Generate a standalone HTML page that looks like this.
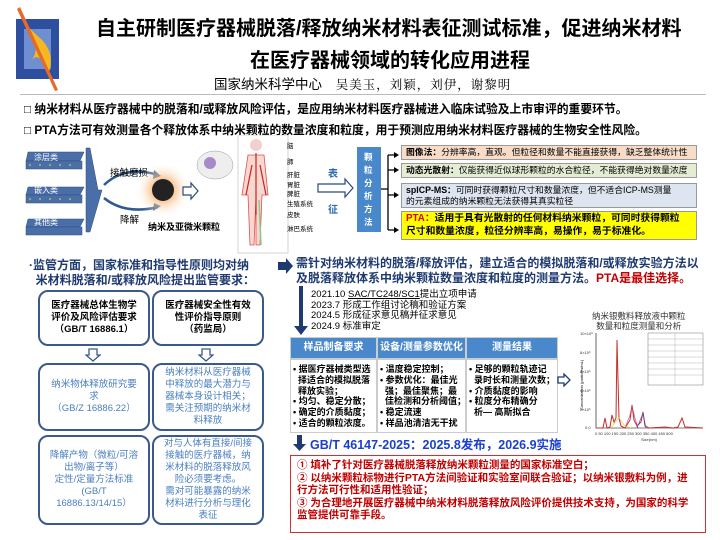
<!DOCTYPE html>
<html><head><meta charset="utf-8"><style>
*{margin:0;padding:0;box-sizing:border-box}
body{width:720px;height:540px;background:#fff;position:relative;overflow:hidden;font-family:"Liberation Sans","Noto Sans CJK SC",sans-serif;color:#000}
.a{position:absolute;white-space:nowrap}
.b{font-weight:bold}
.rb{position:absolute;border:2px solid #3a5a8c;border-radius:10px;display:flex;align-items:center;justify-content:center;text-align:center;font-size:9.5px;line-height:12px;padding:3px;white-space:nowrap}
.blu{color:#4a7fc0}
.mb{position:absolute;border:1px solid #999;font-size:8.8px;line-height:11px;padding:1px 4px;white-space:nowrap}
</style></head><body>
<!-- logo -->
<svg class="a" style="left:12px;top:5px" width="50" height="90">
<rect x="4" y="14" width="43" height="60" fill="#2e4fa0"/>
<rect x="12" y="24" width="27" height="40" fill="#6f8fd0"/>
<path d="M14 20 Q30 40 20 55 Q28 45 36 70 Q44 50 30 35Z" fill="#f5b820"/>
<path d="M8 2 L46 85 L43 86 L5 4Z" fill="#e86a2a"/>
</svg>
<div class="a b" style="left:96px;top:12px;font-size:20px">自主研制医疗器械脱落/释放纳米材料表征测试标准，促进纳米材料</div>
<div class="a b" style="left:250px;top:44px;font-size:20px">在医疗器械领域的转化应用进程</div>
<div class="a" style="left:214px;top:73px;font-size:13.5px">国家纳米科学中心 <span style="font-family:'Liberation Serif','Noto Serif CJK SC',serif;font-size:12.5px;margin-left:10px;letter-spacing:1px">吴美玉，刘颖，刘伊，谢黎明</span></div>
<div class="a" style="left:20px;top:94px;width:686px;height:1px;background:#bbb"></div>
<div class="a b" style="left:24px;top:100px;font-size:11.8px">□ 纳米材料从医疗器械中的脱落和/或释放风险评估，是应用纳米材料医疗器械进入临床试验及上市审评的重要环节。</div>
<div class="a b" style="left:24px;top:121px;font-size:11.8px">□ PTA方法可有效测量各个释放体系中纳米颗粒的数量浓度和粒度，用于预测应用纳米材料医疗器械的生物安全性风险。</div>

<!-- left diagram -->
<svg class="a" style="left:0;top:135px" width="400" height="120">
<defs><radialGradient id="g"><stop offset="0.2" stop-color="#f5a050"/><stop offset="1" stop-color="#fff" stop-opacity="0"/></radialGradient></defs>
<g fill="#4a6fa8" stroke="#2e4a7a" stroke-width="0.5">
<path d="M28 17 L84 17 L80 26 L26 26Z"/><rect x="26" y="26" width="56" height="8"/>
<path d="M28 52 L84 52 L80 60 L26 60Z"/><rect x="26" y="60" width="56" height="8"/>
<path d="M28 84 L84 84 L80 92 L26 92Z"/><rect x="26" y="92" width="56" height="8"/>
<path d="M86 13 L90 13 L98 55 L102 55 L90 97 L86 97Z"/>
</g>
<g fill="#ee3" ><circle cx="30" cy="30" r="0.8"/><circle cx="40" cy="30" r="0.8"/><circle cx="50" cy="30" r="0.8"/><circle cx="60" cy="30" r="0.8"/><circle cx="70" cy="30" r="0.8"/><circle cx="30" cy="64" r="0.8"/><circle cx="40" cy="64" r="0.8"/><circle cx="50" cy="64" r="0.8"/><circle cx="60" cy="64" r="0.8"/><circle cx="70" cy="64" r="0.8"/></g>
<text x="34" y="25" font-size="8" fill="#fff">涂层类</text>
<text x="34" y="58" font-size="8" fill="#fff">嵌入类</text>
<text x="34" y="90" font-size="8" fill="#fff">其他类</text>
<path d="M104 50 Q125 30 158 40" stroke="#2e5a90" stroke-width="2.5" fill="none"/>
<path d="M104 63 Q125 80 158 72" stroke="#2e5a90" stroke-width="2.5" fill="none"/>
<path d="M154 35 L161 41 L153 44Z M154 68 L161 71 L153 76Z" fill="#2e5a90"/>
<text x="110" y="41" font-size="9.5" font-family="Liberation Sans,Noto Sans CJK SC">接触磨损</text>
<text x="120" y="88" font-size="9.5" font-family="Liberation Sans,Noto Sans CJK SC">降解</text>
<circle cx="163" cy="55" r="28" fill="url(#g)"/>
<circle cx="163" cy="55" r="11" fill="#222"/>
<text x="148" y="95" font-size="9" font-weight="bold" font-family="Liberation Sans,Noto Sans CJK SC">纳米及亚微米颗粒</text>
<path d="M183 52 L191 52 L191 48 L198 56 L191 64 L191 60 L183 60Z" fill="#fff" stroke="#2e4a7a" stroke-width="1.2"/>
<ellipse cx="215" cy="30" rx="18" ry="14" fill="#eee" stroke="#999" stroke-width="0.5"/>
<circle cx="210" cy="28" r="6" fill="#a98ac8"/>
<rect x="238" y="0" width="50" height="118" fill="#fff" stroke="#ccc" stroke-width="0.8"/>
<circle cx="256" cy="10" r="6" fill="#f0d0d0"/>
<path d="M248 20 L264 20 L268 60 L262 60 L260 110 L256 110 L256 62 L254 110 L250 110 L248 60 L242 60Z" fill="#f6d8d0" stroke="#e05050" stroke-width="0.8"/>
<path d="M256 18 L256 80 M252 30 L246 60 M260 30 L266 60" stroke="#d02020" stroke-width="1.2" fill="none"/>
<path d="M259 65 L261 110" stroke="#8c8" stroke-width="1.5"/>
<g font-size="6.5" font-family="Liberation Sans,Noto Sans CJK SC"><text x="287" y="13">脑</text><text x="287" y="29">肺</text><text x="287" y="42">肝脏</text><text x="287" y="52">胃脏</text><text x="287" y="61">脾脏</text><text x="287" y="71">生殖系统</text><text x="287" y="82">皮肤</text><text x="287" y="96">淋巴系统</text></g>
<path d="M318 49 L345 49 L345 44 L353 53 L345 62 L345 57 L318 57Z" fill="#fff" stroke="#2e4a7a" stroke-width="1.2"/>
<text x="328" y="42" font-size="10" font-weight="bold" fill="#2e6ab0" font-family="Liberation Sans,Noto Sans CJK SC">表</text>
<text x="328" y="78" font-size="10" font-weight="bold" fill="#2e6ab0" font-family="Liberation Sans,Noto Sans CJK SC">征</text>
<rect x="357" y="12" width="24" height="85" fill="#4a88cc"/>
<g font-size="8.5" font-weight="bold" fill="#fff" font-family="Liberation Sans,Noto Sans CJK SC"><text x="364" y="25">颗</text><text x="364" y="38">粒</text><text x="364" y="51">分</text><text x="364" y="64">析</text><text x="364" y="77">方</text><text x="364" y="90">法</text></g>
<path d="M381 54 L388 54 M388 20 L388 95 M388 20 L396 20 M388 35 L396 35 M388 60 L396 60 M388 95 L396 95" stroke="#000" stroke-width="1.3"/>
<path d="M394 17 L399 20 L394 23Z M394 32 L399 35 L394 38Z M394 57 L399 60 L394 63Z M394 92 L399 95 L394 98Z" fill="#000"/>
</svg>
<div class="mb" style="left:401px;top:145px;width:296px;height:15px;background:#f8dcc8"><b>图像法：</b>分辨率高，直观。但粒径和数量不能直接获得，缺乏整体统计性</div>
<div class="mb" style="left:401px;top:163px;width:296px;height:15px;background:#e4edd4"><b>动态光散射：</b>仅能获得近似球形颗粒的水合粒径，不能获得绝对数量浓度</div>
<div class="mb" style="left:401px;top:183px;width:296px;height:25px;background:#dde5f0"><b>spICP-MS：</b>可同时获得颗粒尺寸和数量浓度，但不适合ICP-MS测量<br>的元素组成的纳米颗粒无法获得其真实粒径</div>
<div class="mb b" style="left:401px;top:211px;width:296px;height:29px;background:#ffff00;font-size:9.8px;line-height:12.5px;padding-top:1px"><span style="color:#e00000">PTA：</span>适用于具有光散射的任何材料纳米颗粒，可同时获得颗粒<br>尺寸和数量浓度，粒径分辨率高，易操作，易于标准化。</div>

<!-- left lower -->
<div class="a b" style="left:29px;top:258px;font-size:12px;color:#1f3a70;line-height:15px">·监管方面，国家标准和指导性原则均对纳<br>&nbsp;&nbsp;米材料脱落和/或释放风险提出监管要求：</div>
<div class="rb b" style="left:38px;top:290px;width:112px;height:56px">医疗器械总体生物学<br>评价及风险评估要求<br>（GB/T 16886.1）</div>
<div class="rb b" style="left:152px;top:290px;width:112px;height:56px">医疗器械安全性有效<br>性评价指导原则<br>（药监局）</div>
<svg class="a" style="left:85px;top:348px" width="16" height="14"><path d="M4 1 L12 1 L12 7 L15 7 L8 13 L1 7 L4 7Z" fill="#fff" stroke="#3a5a8c" stroke-width="1.3"/></svg>
<svg class="a" style="left:198px;top:348px" width="16" height="14"><path d="M4 1 L12 1 L12 7 L15 7 L8 13 L1 7 L4 7Z" fill="#fff" stroke="#3a5a8c" stroke-width="1.3"/></svg>
<div class="rb blu" style="left:38px;top:363px;width:112px;height:68px">纳米物体释放研究要<br>求<br>（GB/Z 16886.22）</div>
<div class="rb blu" style="left:152px;top:363px;width:112px;height:68px">纳米材料从医疗器械<br>中释放的最大潜力与<br>器械本身设计相关；<br>需关注预期的纳米材<br>料释放</div>
<div class="rb blu" style="left:38px;top:435px;width:112px;height:90px">降解产物（微粒/可溶<br>出物/离子等）<br>定性/定量方法标准<br>(GB/T<br>16886.13/14/15）</div>
<div class="rb blu" style="left:152px;top:435px;width:112px;height:90px">对与人体有直接/间接<br>接触的医疗器械，纳<br>米材料的脱落释放风<br>险必须要考虑。<br>需对可能暴露的纳米<br>材料进行分析与理化<br>表征</div>

<!-- right lower -->
<svg class="a" style="left:278px;top:258px" width="16" height="16"><path d="M0 4 L8 4 L8 0 L15 8 L8 16 L8 12 L0 12Z" fill="#1f3a70"/></svg>
<div class="a b" style="left:296px;top:256px;font-size:12px;color:#1f3a70;line-height:15px">需针对纳米材料的脱落/释放评估，建立适合的模拟脱落和/或释放实验方法以<br>及脱落释放体系中纳米颗粒数量浓度和粒度的测量方法。<span style="color:#c00000">PTA是最佳选择。</span></div>
<svg class="a" style="left:293px;top:286px" width="16" height="50"><path d="M6 0 L10 0 L10 40 L15 40 L8 49 L1 40 L6 40Z" fill="#1f3a70"/></svg>
<div class="a" style="left:311px;top:290px;font-size:9.5px;line-height:10.5px">2021.10 <u>SAC/TC248/SC1</u>提出立项申请<br>2023.7 形成工作组讨论稿和验证方案<br>2024.5 形成征求意见稿并征求意见<br>2024.9 标准审定</div>
<div class="a" style="left:290px;top:337px;width:268px;height:96px;background:#ccc"></div>
<div class="a b" style="left:291px;top:338px;width:85px;height:20px;background:#4a88cc;color:#fff;font-size:10px;text-align:center;line-height:20px">样品制备要求</div>
<div class="a b" style="left:378px;top:338px;width:87px;height:20px;background:#4a88cc;color:#fff;font-size:10px;text-align:center;line-height:20px">设备/测量参数优化</div>
<div class="a b" style="left:467px;top:338px;width:90px;height:20px;background:#4a88cc;color:#fff;font-size:10px;text-align:center;line-height:20px">测量结果</div>
<div class="a b" style="left:291px;top:360px;width:85px;height:72px;background:#fff;font-size:9px;line-height:10.8px;padding:4px 2px">• 据医疗器械类型选<br>&nbsp;&nbsp;择适合的模拟脱落<br>&nbsp;&nbsp;释放实验；<br>• 均匀、稳定分散；<br>• 确定的介质黏度；<br>• 适合的颗粒浓度。</div>
<div class="a b" style="left:378px;top:360px;width:87px;height:72px;background:#fff;font-size:9px;line-height:10.8px;padding:4px 2px">• 温度稳定控制；<br>• 参数优化：最佳光<br>&nbsp;&nbsp;强；最佳聚焦；最<br>&nbsp;&nbsp;佳检测和分析阈值；<br>• 稳定流速<br>• 样品池清洁无干扰</div>
<div class="a b" style="left:467px;top:360px;width:90px;height:72px;background:#fff;font-size:9px;line-height:10.8px;padding:4px 2px">• 足够的颗粒轨迹记<br>&nbsp;&nbsp;录时长和测量次数；<br>• 介质黏度的影响<br>• 粒度分布精确分<br>&nbsp;&nbsp;析—&nbsp;高斯拟合</div>
<svg class="a" style="left:557px;top:373px" width="14" height="14"><path d="M1 4 L7 4 L7 1 L13 7 L7 13 L7 10 L1 10Z" fill="#fff" stroke="#1f3a70" stroke-width="1.3"/></svg>
<div class="a" style="left:592px;top:311px;font-size:8.5px;line-height:10px;text-align:center;color:#333">纳米银敷料释放液中颗粒<br>数量和粒度测量和分析</div>
<svg class="a" style="left:575px;top:330px" width="140" height="112">
<g stroke="#000" stroke-width="0.6" fill="none"><path d="M21 3 L21 98 L128 98"/></g>
<g font-size="4" fill="#333"><text x="5" y="5">10×10⁶</text><text x="5" y="24">8×10⁶</text><text x="5" y="43">6×10⁶</text><text x="5" y="62">4×10⁶</text><text x="5" y="81">2×10⁶</text><text x="10" y="99">0.0</text>
<text x="20" y="105">0 50 100 150 200 250 300 350 400 450 500</text><text x="66" y="111">Size(nm)</text></g>
<text x="8" y="80" font-size="4" transform="rotate(-90 8 80)">Concentration (particles/mL)</text>
<polyline fill="none" stroke="#c0302a" stroke-width="1" points="21,98 28,98 30,88 32,98 35,97 37,85 39,92 41,88 42,10 44,88 46,96 50,98 55,90 57,75 59,90 62,96 66,92 68,82 70,96 74,98 90,97 98,98 103,97 107,88 110,97 128,98"/>
<polyline fill="none" stroke="#d04080" stroke-width="0.6" points="50,98 55,85 57,76 60,88 63,98"/>
<polyline fill="none" stroke="#3050d0" stroke-width="0.6" points="62,98 66,88 68,83 71,98"/>
<polyline fill="none" stroke="#e0c020" stroke-width="0.6" points="36,98 40,92 44,88 50,96 56,98"/>
<rect x="73" y="3" width="55" height="52" fill="#fff" stroke="#555" stroke-width="0.4"/>
<g stroke="#888" stroke-width="0.3"><path d="M100 3 L100 55 M73 9 L128 9 M73 15 L128 15 M73 21 L128 21 M73 27 L128 27 M73 33 L128 33 M73 39 L128 39 M73 45 L128 45"/></g>
</svg>
<svg class="a" style="left:293px;top:435px" width="14" height="17"><path d="M4 0 L9 0 L9 9 L13 9 L6.5 16 L0 9 L4 9Z" fill="#1f3a70"/></svg>
<div class="a b" style="left:310px;top:434px;font-size:12.5px;color:#1a3fd0">GB/T 46147-2025：2025.8发布，2026.9实施</div>
<div class="a b" style="left:290px;top:455px;width:416px;height:78px;border:1.5px solid #d03030;color:#c00000;font-size:10.5px;line-height:12.5px;padding:3px 6px">① 填补了针对医疗器械脱落释放纳米颗粒测量的国家标准空白；<br>② 以纳米颗粒标物进行PTA方法间验证和实验室间联合验证；以纳米银敷料为例，进<br>行方法可行性和适用性验证；<br>③ 为合理地开展医疗器械中纳米材料脱落释放风险评价提供技术支持，为国家的科学<br>监管提供可靠手段。</div>
</body></html>
